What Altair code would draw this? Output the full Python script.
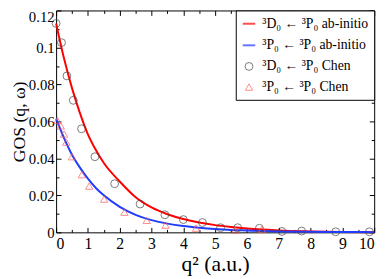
import altair as alt
import pandas as pd

# ---- data ----
q_curve = [0, 0.25, 0.5, 0.75, 1.0, 1.25, 1.5, 2.0, 2.5, 3.0, 3.5, 4.0, 4.5,
           5.0, 5.5, 6.0, 6.5, 7.0, 8.0, 9.0, 10.0]
d_abinitio = [0.113, 0.094, 0.078, 0.0645, 0.053, 0.0445, 0.0375, 0.0275, 0.019,
              0.0135, 0.0098, 0.0072, 0.0053, 0.0039, 0.0029, 0.0021, 0.0015,
              0.0010, 0.0005, 0.0002, 0.0001]
p_abinitio = [0.0615, 0.051, 0.042, 0.035, 0.029, 0.024, 0.020, 0.0138, 0.0095,
              0.0066, 0.0047, 0.0034, 0.0025, 0.0018, 0.0013, 0.0010, 0.0007,
              0.0005, 0.0003, 0.0002, 0.0001]

q_d_chen = [0.0, 0.17, 0.34, 0.54, 0.80, 1.22, 1.84, 2.64, 3.42, 4.0, 4.6,
            5.17, 5.71, 6.39, 7.1, 7.72, 8.79, 9.85]
d_chen = [0.113, 0.1026, 0.0846, 0.0714, 0.056, 0.0409, 0.0263, 0.0153, 0.0095,
          0.0069, 0.0053, 0.0025, 0.0025, 0.0022, 0.0005, 0.0007, 0.0003, 0.0003]

q_p_chen = [0.04, 0.145, 0.25, 0.32, 0.50, 0.81, 1.04, 1.51, 2.15, 2.85, 3.44,
            4.4, 5.63, 6.47]
p_chen = [0.0605, 0.0576, 0.0532, 0.0488, 0.0409, 0.0312, 0.0250, 0.0180,
          0.0109, 0.0065, 0.0039, 0.0023, 0.0012, 0.0017]

labels = ["³D₀ ← ³P₀ ab-initio", "³P₀ ← ³P₀ ab-initio",
          "³D₀ ← ³P₀ Chen", "³P₀ ← ³P₀ Chen"]

x_major = [0, 1, 2, 3, 4, 5, 6, 7, 8, 9, 10]
x_minor = [0.5, 1.5, 2.5, 3.5, 4.5, 5.5, 6.5, 7.5, 8.5, 9.5]
y_major = [0, 0.02, 0.04, 0.06, 0.08, 0.1, 0.12]
y_minor = [0.01, 0.03, 0.05, 0.07, 0.09, 0.11]

n = len(q_curve)
line_df = pd.DataFrame({
    "q": q_curve + q_curve,
    "gos": d_abinitio + p_abinitio,
    "series": [labels[0]] * n + [labels[1]] * n,
})
pts_df = pd.DataFrame({
    "q": q_d_chen + q_p_chen,
    "gos": d_chen + p_chen,
    "series": [labels[2]] * len(q_d_chen) + [labels[3]] * len(q_p_chen),
})

FONT = "Liberation Serif"
W, H = 324, 226
xs = alt.Scale(domain=[0, 10], nice=False)
ys = alt.Scale(domain=[0, 0.12], nice=False)

color_scale = alt.Scale(domain=labels, range=["#ff0000", "#1f3cff", "#444444", "#ff5a5a"])
shape_scale = alt.Scale(domain=labels, range=["stroke", "stroke", "circle", "triangle-up"])
size_scale = alt.Scale(type="ordinal", domain=labels, range=[160, 160, 64, 56])
sw_scale = alt.Scale(type="ordinal", domain=labels, range=[2, 2, 1, 1])


def minor_axis(orient, values, size):
    return alt.Axis(orient=orient, values=values, tickSize={"expr": str(-size)},
                    tickColor="black", domain=False, grid=False, labels=False,
                    title=None)


x_main = alt.Axis(
    orient="bottom", values=x_major, tickSize={"expr": "-5"}, tickColor="black",
    domain=False, grid=False, labelFont=FONT, labelFontSize=16, labelColor="black",
    labelPadding=8, labelExpr="format(datum.value, 'd')",
    title="q² (a.u.)", titleFont=FONT, titleFontSize=22, titleFontWeight="normal",
    titleColor="black", titleBaseline="alphabetic", titleX=W / 2, titleY=39,
)
y_main = alt.Axis(
    orient="left", values=y_major, tickSize={"expr": "-5"}, tickColor="black",
    domain=False, grid=False, labelFont=FONT, labelFontSize=15, labelColor="black",
    labelPadding=7, labelExpr="datum.value == 0 ? '0' : format(datum.value, '.2~f')",
    labelOffset={"condition": {"test": "datum.value > 0.119", "value": 6}, "value": 0},
    title="GOS (q, ω)", titleFont=FONT, titleFontSize=18, titleFontWeight="normal",
    titleColor="black", titleBaseline="alphabetic", titleAngle=270,
    titleX=-32, titleY=113,
)
x_top = alt.Axis(orient="top", values=x_major, tickSize={"expr": "-5"},
                 tickColor="black", domain=False, grid=False, labels=False, title=None)
y_right = alt.Axis(orient="right", values=y_major, tickSize={"expr": "-5"},
                   tickColor="black", domain=False, grid=False, labels=False, title=None)

lines = alt.Chart(line_df).mark_line(interpolate="monotone").encode(
    x=alt.X("q:Q", scale=xs, axis=x_main),
    y=alt.Y("gos:Q", scale=ys, axis=y_main),
    color=alt.Color("series:N", scale=color_scale, title=None),
    strokeWidth=alt.StrokeWidth("series:N", scale=sw_scale, title=None),
)

points = alt.Chart(pts_df).mark_point(filled=False).encode(
    x=alt.X("q:Q", scale=xs, axis=x_top),
    y=alt.Y("gos:Q", scale=ys, axis=y_right),
    color=alt.Color("series:N", scale=color_scale, title=None),
    shape=alt.Shape("series:N", scale=shape_scale, title=None),
    size=alt.Size("series:N", scale=size_scale, title=None),
    strokeWidth=alt.StrokeWidth("series:N", scale=sw_scale, title=None),
)

minor1 = alt.Chart(line_df).mark_line(strokeOpacity=0).encode(
    x=alt.X("q:Q", scale=xs, axis=minor_axis("bottom", x_minor, 3)),
    y=alt.Y("gos:Q", scale=ys, axis=minor_axis("left", y_minor, 3)),
)
minor2 = alt.Chart(line_df).mark_line(strokeOpacity=0).encode(
    x=alt.X("q:Q", scale=xs, axis=minor_axis("top", x_minor, 3)),
    y=alt.Y("gos:Q", scale=ys, axis=minor_axis("right", y_minor, 3)),
)

chart = alt.layer(lines, points, minor1, minor2).resolve_axis(
    x="independent", y="independent"
).properties(
    width=W, height=H,
    autosize=alt.AutoSizeParams(type="none"),
    padding={"left": 49, "top": 0, "right": 10, "bottom": 45},
    background="white",
).configure_view(
    stroke="black", strokeWidth=1
).configure_axis(
    labelFont=FONT, titleFont=FONT
).configure_legend(
    orient="top-right", offset=0, padding=6, strokeColor="black",
    fillColor="white", labelFont=FONT, labelFontSize=14, labelColor="black",
    rowPadding=7, labelOffset=6,
)

chart.save("out.html", embed_options={"renderer": "svg", "actions": False})
